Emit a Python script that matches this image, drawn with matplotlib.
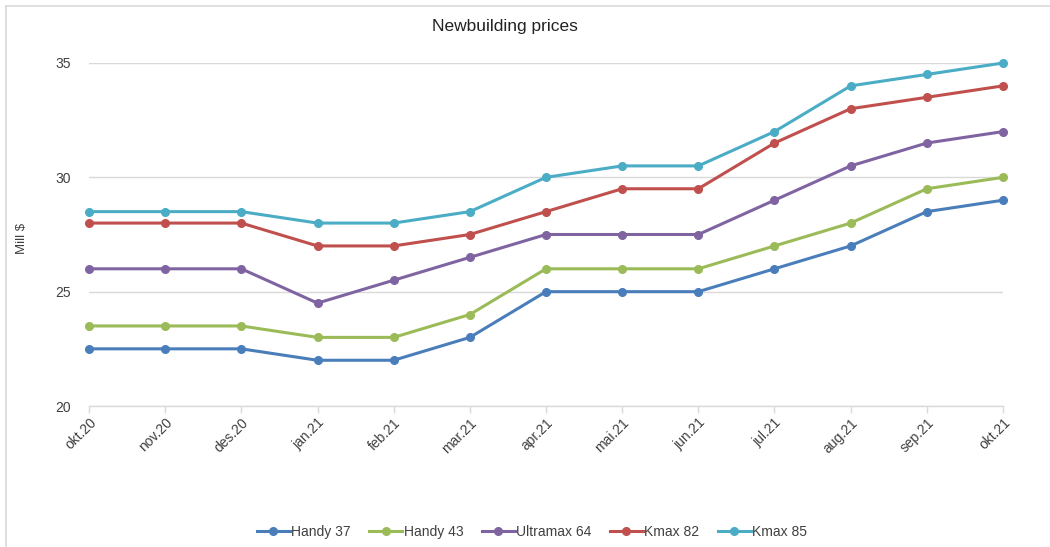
import matplotlib
matplotlib.use("Agg")
import matplotlib.pyplot as plt
from matplotlib.lines import Line2D

months = ["okt.20", "nov.20", "des.20", "jan.21", "feb.21", "mar.21", "apr.21",
          "mai.21", "jun.21", "jul.21", "aug.21", "sep.21", "okt.21"]
handy37 = [22.5, 22.5, 22.5, 22, 22, 23, 25, 25, 25, 26, 27, 28.5, 29]
handy43 = [23.5, 23.5, 23.5, 23, 23, 24, 26, 26, 26, 27, 28, 29.5, 30]
ultramax64 = [26, 26, 26, 24.5, 25.5, 26.5, 27.5, 27.5, 27.5, 29, 30.5, 31.5, 32]
kmax82 = [28, 28, 28, 27, 27, 27.5, 28.5, 29.5, 29.5, 31.5, 33, 33.5, 34]
kmax85 = [28.5, 28.5, 28.5, 28, 28, 28.5, 30, 30.5, 30.5, 32, 34, 34.5, 35]
series_names = ["Handy 37", "Handy 43", "Ultramax 64", "Kmax 82", "Kmax 85"]
series_values = [handy37, handy43, ultramax64, kmax82, kmax85]
colors = ["#4A7EBB", "#9BBB59", "#8064A2", "#C0504D", "#4BACC6"]

plt.rcParams['font.family'] = ['Liberation Sans', 'DejaVu Sans']

fig = plt.figure(figsize=(10.5, 5.47), dpi=100)
W, H = 1050, 547
ax = fig.add_axes([89 / W, 1 - 406 / H, (1003 - 89) / W, (406 - 63) / H])

x = list(range(len(months)))
for name, vals, c in zip(series_names, series_values, colors):
    ax.plot(x, vals, color=c, lw=2.2, marker='o', ms=5.5, label=name,
            solid_joinstyle='round', zorder=3, clip_on=False)

ax.set_xlim(0, len(months) - 1)
ax.set_ylim(20, 35)
ax.set_yticks([20, 25, 30, 35])
ax.grid(axis='y', color='#D9D9D9', lw=1)
ax.set_axisbelow(True)
for s in ['top', 'right', 'left']:
    ax.spines[s].set_visible(False)
ax.spines['bottom'].set_color('#D9D9D9')
ax.spines['bottom'].set_linewidth(1)
ax.set_xticks(x)
ax.set_xticklabels(months, rotation=45, ha='right', rotation_mode='anchor')
ax.tick_params(axis='x', colors='#D9D9D9', length=5, width=1, labelcolor='#404040',
               labelsize=10, pad=2)
ax.tick_params(axis='y', length=0, labelcolor='#404040', labelsize=10, pad=13)
ax.set_ylabel("Mill $", fontsize=9.5, color='#404040')
ax.yaxis.set_label_coords((28 - 89) / (1003 - 89), (406 - 238) / (406 - 63))

fig.text(505 / W, 1 - 27 / H, "Newbuilding prices", ha='center', va='center',
         fontsize=12.5, color='#222222')

handles = [Line2D([], [], color=c, lw=2.2, marker='o', ms=5.5) for c in colors]
fig.legend(handles, series_names, loc='center', bbox_to_anchor=(532 / W, 1 - 532 / H),
           ncol=5, frameon=False, fontsize=10, handlelength=2.4, handletextpad=0.1,
           columnspacing=1.3, labelcolor='#404040')

# partial screenshot frame (left and top)
fig.add_artist(Line2D([6 / W, 6 / W], [0, 1 - 6 / H], color='#D9D9D9', lw=1.2,
                      transform=fig.transFigure))
fig.add_artist(Line2D([6 / W, 1], [1 - 6 / H, 1 - 6 / H], color='#D9D9D9', lw=1.2,
                      transform=fig.transFigure))

fig.savefig("out.png", dpi=100, facecolor='white')
